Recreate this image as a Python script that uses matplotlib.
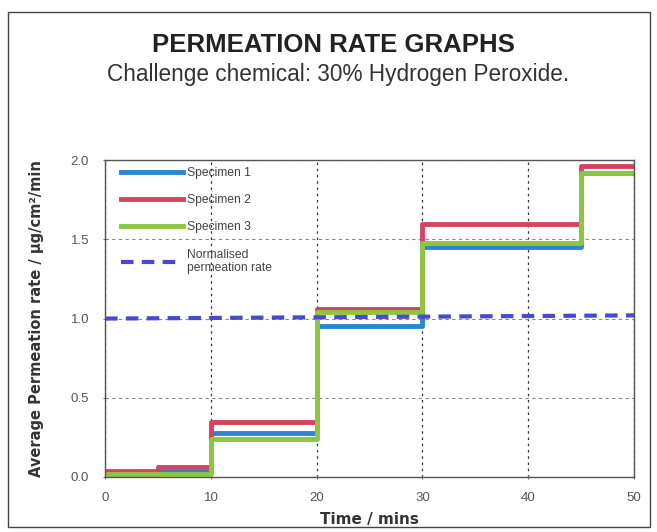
import matplotlib
matplotlib.use("Agg")
import matplotlib.pyplot as plt
from matplotlib.patches import Rectangle

plt.rcParams["font.family"] = ["Liberation Sans", "DejaVu Sans"]

# step start times (mins) and rates for each interval
time = [0, 5, 10, 20, 30, 45, 50]
spec1 = [0.02, 0.04, 0.28, 0.95, 1.45, 1.92, 1.92]
spec2 = [0.035, 0.065, 0.35, 1.06, 1.60, 1.96, 1.96]
spec3 = [0.02, 0.02, 0.24, 1.04, 1.48, 1.92, 1.92]
norm_time = [0, 50]
norm_rate = [1.0, 1.02]

labels = ["Specimen 1", "Specimen 2", "Specimen 3", "Normalised\npermeation rate"]

fig = plt.figure(figsize=(6.57, 5.32), dpi=100)
ax = fig.add_axes([0.160, 0.1034, 0.805, 0.5956])

# outer frame of the page
fig.patches.append(Rectangle((0.012, 0.01), 0.978, 0.967, transform=fig.transFigure,
                             fill=False, edgecolor="#444444", linewidth=1.0))

ax.step(time, spec1, where="post", color="#2a86cf", linewidth=3.5, label=labels[0])
ax.step(time, spec2, where="post", color="#d6435f", linewidth=3.5, label=labels[1])
ax.step(time, spec3, where="post", color="#8dc640", linewidth=3.5, label=labels[2])
ax.plot(norm_time, norm_rate, color="#4a48cc", linewidth=3.0, linestyle=(0, (3, 2)),
        label=labels[3])

ax.set_xlim(0, 50)
ax.set_ylim(0, 2.0)
ax.set_xticks([0, 10, 20, 30, 40, 50])
ax.set_yticks([0.0, 0.5, 1.0, 1.5, 2.0])
ax.set_yticklabels(["0.0", "0.5", "1.0", "1.5", "2.0"])
ax.tick_params(labelsize=9.5, labelcolor="#555555", color="#777777", length=3,
               direction="inout")
ax.tick_params(axis="x", pad=9)
ax.tick_params(axis="y", pad=10)
ax.xaxis.grid(True, linestyle=(0, (2, 3)), color="#333333", linewidth=0.9)
ax.yaxis.grid(True, linestyle=(0, (3, 3)), color="#888888", linewidth=0.8)
for s in ax.spines.values():
    s.set_color("#555555")
    s.set_linewidth(1.0)

ax.set_xlabel("Time / mins", fontsize=11, fontweight="bold", color="#333333",
              labelpad=6, family="DejaVu Sans")
ax.set_ylabel("Average Permeation rate / µg/cm²/min", fontsize=10.5, fontweight="bold",
              color="#333333", labelpad=19, family="DejaVu Sans")

ax.legend(loc="upper left", bbox_to_anchor=(0.01, 1.012), frameon=False, fontsize=8.7,
          handlelength=5.1, labelspacing=1.25, handletextpad=0.3, labelcolor="#444444")

fig.text(0.508, 0.915, "PERMEATION RATE GRAPHS", ha="center", va="center",
         fontsize=18.5, fontweight="bold", color="#222222")
fig.text(0.514, 0.86, "Challenge chemical: 30% Hydrogen Peroxide.", ha="center",
         va="center", fontsize=16.3, color="#333333")

plt.savefig("out.png", dpi=100)
